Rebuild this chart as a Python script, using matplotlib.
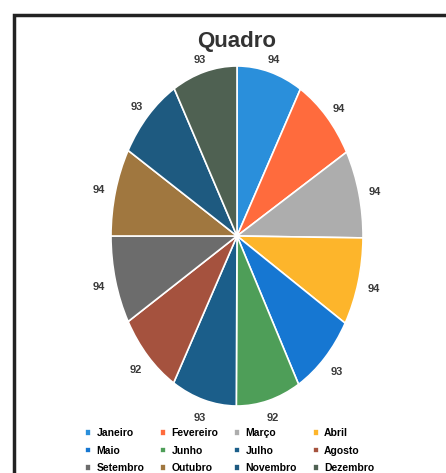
import numpy as np
import matplotlib.pyplot as plt
from matplotlib.patches import Rectangle

plt.rcParams['font.family'] = ['Liberation Sans Narrow', 'Liberation Sans', 'DejaVu Sans']

meses = ["Janeiro", "Fevereiro", "Março", "Abril", "Maio", "Junho",
         "Julho", "Agosto", "Setembro", "Outubro", "Novembro", "Dezembro"]
valores = [94, 94, 94, 94, 93, 92, 93, 92, 94, 94, 93, 93]
cores = ["#2a8fdb", "#ff6b3d", "#adadad", "#fdb52b", "#1677d2", "#4e9e58",
         "#1b5e8a", "#a5523e", "#6c6c6c", "#a0773f", "#1e5a80", "#4f6152"]

W, H = 446, 473
fig = plt.figure(figsize=(W / 100, H / 100), dpi=100)

# moldura do grafico
fig.patches.append(Rectangle((14 / W, -0.05), 1.1, (H - 15) / H + 0.05,
                             transform=fig.transFigure, fill=False,
                             edgecolor="#222222", linewidth=2.5))

# pie eliptico: raio 126 px na horizontal, 170 px na vertical
cx, cy, rx, ry = 237, 236, 126, 170
ax = fig.add_axes([(cx - 1.25 * rx) / W, (H - cy - 1.25 * ry) / H,
                   2.5 * rx / W, 2.5 * ry / H])

wedges, _ = ax.pie(valores, colors=cores, startangle=90, counterclock=False,
                   wedgeprops=dict(edgecolor="white", linewidth=1.2))
ax.set_aspect("auto")
ax.set_xlim(-1.25, 1.25)
ax.set_ylim(-1.25, 1.25)
ax.axis("off")

# rotulos de dados fora da borda, deslocamento fixo em pontos
for w, v in zip(wedges, valores):
    ang = np.deg2rad((w.theta1 + w.theta2) / 2)
    ax.annotate(str(v), xy=(np.cos(ang), np.sin(ang)),
                xytext=(12 * np.cos(ang), 11 * np.sin(ang) - 2),
                textcoords="offset points", ha="center", va="center",
                fontsize=8, fontweight="bold", color="#3a3a3a")

fig.text(cx / W, 1 - 41 / H, "Quadro", ha="center", va="center",
         fontsize=16, fontweight="bold", color="#333333")

# legenda em linhas (matplotlib preenche por coluna)
ordem = [0, 4, 8, 1, 5, 9, 2, 6, 10, 3, 7, 11]
fig.legend([wedges[i] for i in ordem], [meses[i] for i in ordem], ncol=4,
           loc="upper left", bbox_to_anchor=(80 / W, 1 - 423 / H),
           frameon=False, prop=dict(weight="bold", size=7.5),
           handlelength=0.6, handleheight=0.6, handletextpad=0.5,
           columnspacing=1.5, labelspacing=0.72, borderpad=0)

fig.savefig("out.png", dpi=100)
